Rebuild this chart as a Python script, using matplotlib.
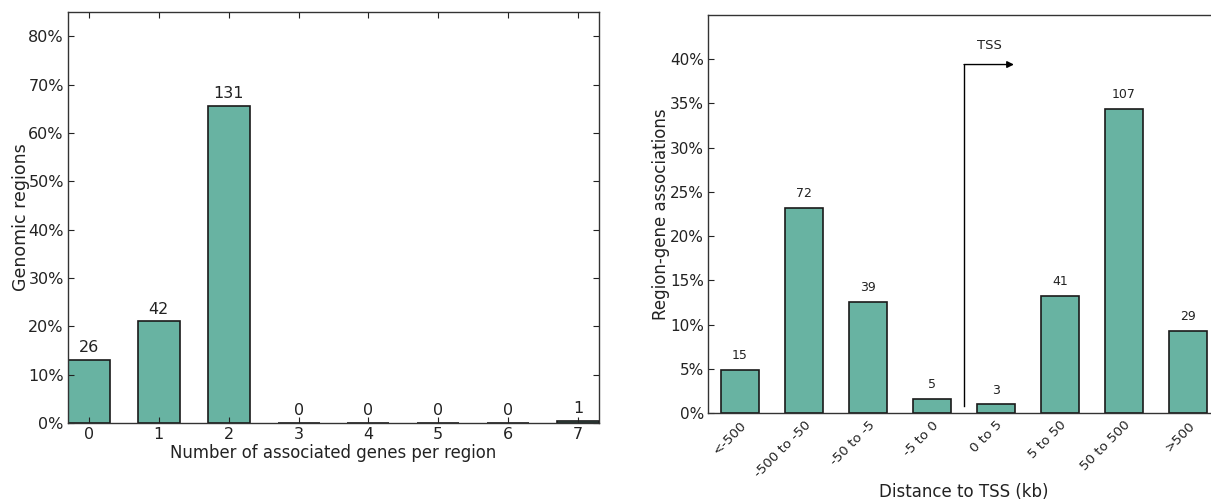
import matplotlib
matplotlib.use("Agg")
import matplotlib.pyplot as plt
from matplotlib.ticker import FuncFormatter
from matplotlib.transforms import ScaledTranslation

plt.rcParams['font.family'] = ['DejaVu Sans']

# Left chart data
genes_categories = ['0', '1', '2', '3', '4', '5', '6', '7']
genes_counts = [26, 42, 131, 0, 0, 0, 0, 1]
genes_total = 200

# Right chart data
tss_categories = ['<-500', '-500 to -50', '-50 to -5', '-5 to 0', '0 to 5', '5 to 50', '50 to 500', '>500']
tss_counts = [15, 72, 39, 5, 3, 41, 107, 29]
tss_total = 311

left_yticks = [0, 10, 20, 30, 40, 50, 60, 70, 80]
right_yticks = [0, 5, 10, 15, 20, 25, 30, 35, 40]

BAR = '#68b3a2'
EDGE = '#1a1a1a'
TXT = '#222222'

fig = plt.figure(figsize=(12.11, 5.0), dpi=100)
pct = FuncFormatter(lambda v, p: f"{v:.0f}%")

# ---- Left ----
ax1 = fig.add_axes([68/1211, 1-423/500, (599-68)/1211, (423-12)/500])
x1 = list(range(len(genes_categories)))
v1 = [c / genes_total * 100 for c in genes_counts]
ax1.bar(x1, v1, width=0.6, color=BAR, edgecolor=EDGE, linewidth=1.2)
for xi, vi, ci in zip(x1, v1, genes_counts):
    ax1.text(xi, vi + 1.0, str(ci), ha='center', va='bottom', fontsize=11.5, color=TXT)
ax1.set_xlim(-0.3, 7.3)
ax1.set_ylim(0, 85)
ax1.set_xticks(x1)
ax1.set_xticklabels(genes_categories)
ax1.set_yticks(left_yticks)
ax1.yaxis.set_major_formatter(pct)
ax1.tick_params(direction='in', top=True, right=True, labelsize=11.5, colors=TXT, length=4, pad=3)
ax1.set_xlabel('Number of associated genes per region', fontsize=11.9, color=TXT, labelpad=1)
ax1.set_ylabel('Genomic regions', fontsize=12.5, color=TXT, labelpad=-1)
for s in ax1.spines.values():
    s.set_color('#333333')
    s.set_linewidth(1.0)

# ---- Right ----
ax2 = fig.add_axes([708/1211, 1-413/500, (1220-708)/1211, (413-15)/500])
x2 = list(range(len(tss_categories)))
v2 = [c / tss_total * 100 for c in tss_counts]
ax2.bar(x2, v2, width=0.6, color=BAR, edgecolor=EDGE, linewidth=1.2)
for xi, vi, ci in zip(x2, v2, tss_counts):
    ax2.text(xi, vi + 0.9, str(ci), ha='center', va='bottom', fontsize=9, color=TXT)
ax2.set_xlim(-0.5, 7.5)
ax2.set_ylim(0, 45)
ax2.set_xticks(x2)
ax2.set_xticklabels(tss_categories, rotation=45, ha='right', rotation_mode='anchor')
shift = ScaledTranslation(10/100, 0, fig.dpi_scale_trans)
for lab in ax2.get_xticklabels():
    lab.set_transform(lab.get_transform() + shift)
ax2.set_yticks(right_yticks)
ax2.yaxis.set_major_formatter(pct)
ax2.tick_params(axis='y', direction='in', right=True, labelsize=11, colors=TXT, length=4, pad=3)
ax2.tick_params(axis='x', length=0, labelsize=9.6, colors=TXT, pad=4)
ax2.set_xlabel('Distance to TSS (kb)', fontsize=12, color=TXT)
ax2.xaxis.set_label_coords(0.5, -70/398)
ax2.set_ylabel('Region-gene associations', fontsize=12, color=TXT, labelpad=0)
for s in ax2.spines.values():
    s.set_color('#333333')
    s.set_linewidth(1.0)

# TSS arrow
ax2.plot([3.5, 3.5], [0.8, 39.4], color='black', linewidth=1.0)
ax2.annotate('', xy=(4.28, 39.4), xytext=(3.5, 39.4),
             arrowprops=dict(arrowstyle='-|>', color='black', lw=1.0, mutation_scale=10,
                             shrinkA=0, shrinkB=0))
ax2.text(3.9, 40.8, 'TSS', ha='center', va='bottom', fontsize=9.5, color=TXT)

fig.savefig('out.png', dpi=100)
